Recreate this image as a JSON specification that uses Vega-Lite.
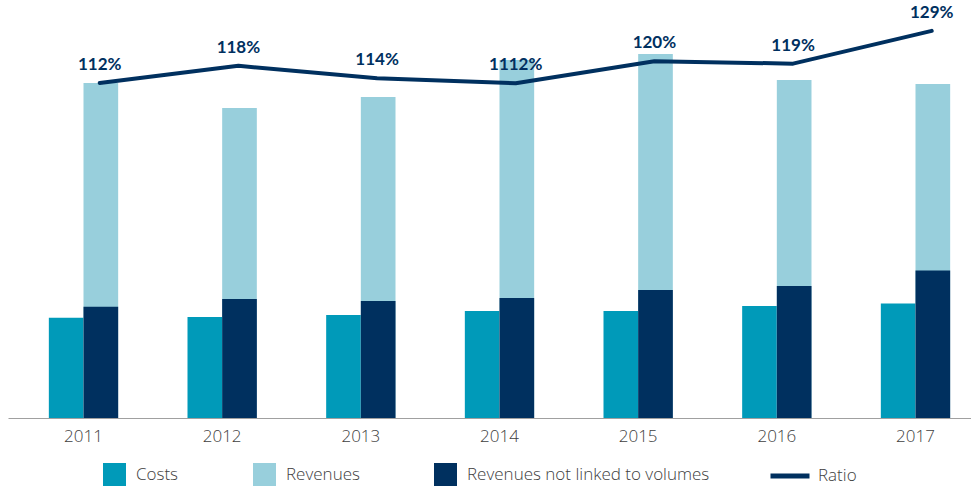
{
  "$schema": "https://vega.github.io/schema/vega-lite/v6.json",
  "width": 963,
  "height": 418,
  "autosize": {"type": "none"},
  "padding": {"left": 8, "top": 0, "right": 0, "bottom": 73},
  "config": {
    "view": {"stroke": null},
    "font": "Open Sans",
    "axis": {"grid": false}
  },
  "datasets": {
    "bars": [
      {"year": "2011", "series": "Costs", "grp": "Costs", "value": 100.3},
      {"year": "2012", "series": "Costs", "grp": "Costs", "value": 101},
      {"year": "2013", "series": "Costs", "grp": "Costs", "value": 103},
      {"year": "2014", "series": "Costs", "grp": "Costs", "value": 107},
      {"year": "2015", "series": "Costs", "grp": "Costs", "value": 107},
      {"year": "2016", "series": "Costs", "grp": "Costs", "value": 112},
      {"year": "2017", "series": "Costs", "grp": "Costs", "value": 114.6},
      {"year": "2011", "series": "Revenues", "grp": "Rev", "value": 335},
      {"year": "2012", "series": "Revenues", "grp": "Rev", "value": 310},
      {"year": "2013", "series": "Revenues", "grp": "Rev", "value": 321},
      {"year": "2014", "series": "Revenues", "grp": "Rev", "value": 358},
      {"year": "2015", "series": "Revenues", "grp": "Rev", "value": 364},
      {"year": "2016", "series": "Revenues", "grp": "Rev", "value": 338},
      {"year": "2017", "series": "Revenues", "grp": "Rev", "value": 334},
      {"year": "2011", "series": "Revenues not linked to volumes", "grp": "Rev", "value": 111.3},
      {"year": "2012", "series": "Revenues not linked to volumes", "grp": "Rev", "value": 119},
      {"year": "2013", "series": "Revenues not linked to volumes", "grp": "Rev", "value": 117},
      {"year": "2014", "series": "Revenues not linked to volumes", "grp": "Rev", "value": 120},
      {"year": "2015", "series": "Revenues not linked to volumes", "grp": "Rev", "value": 128},
      {"year": "2016", "series": "Revenues not linked to volumes", "grp": "Rev", "value": 132},
      {"year": "2017", "series": "Revenues not linked to volumes", "grp": "Rev", "value": 147.6}
    ],
    "ratio": [
      {"year": "2011", "series": "Ratio", "ratio": 112.0, "label": "112%"},
      {"year": "2012", "series": "Ratio", "ratio": 117.6, "label": "118%"},
      {"year": "2013", "series": "Ratio", "ratio": 113.5, "label": "114%"},
      {"year": "2014", "series": "Ratio", "ratio": 111.9, "label": "1112%"},
      {"year": "2015", "series": "Ratio", "ratio": 119.1, "label": "120%"},
      {"year": "2016", "series": "Ratio", "ratio": 118.3, "label": "119%"},
      {"year": "2017", "series": "Ratio", "ratio": 129.0, "label": "129%"}
    ]
  },
  "layer": [
    {
      "data": {"name": "bars"},
      "mark": {"type": "bar"},
      "encoding": {
        "x": {
          "field": "year", "type": "nominal",
          "scale": {"range": [0, 983], "paddingInner": 0, "paddingOuter": 0.0445},
          "axis": {"title": null, "labelAngle": 0, "ticks": false, "domainColor": "#a0a0a0", "domainWidth": 1.2, "labelFontSize": 17, "labelFontWeight": 300, "labelColor": "#404040", "labelPadding": 10}
        },
        "xOffset": {"field": "grp", "type": "nominal", "scale": {"domain": ["Costs", "Rev"], "paddingInner": 0, "paddingOuter": 1.2}},
        "y": {"field": "value", "type": "quantitative", "stack": null, "scale": {"domain": [0, 418], "nice": false}, "axis": null},
        "color": {
          "field": "series", "type": "nominal",
          "scale": {"domain": ["Costs", "Revenues", "Revenues not linked to volumes"], "range": ["#009ab9", "#98cfdc", "#00305f"]},
          "legend": {
            "title": null, "orient": "none", "legendX": 95, "legendY": 463, "direction": "horizontal",
            "symbolType": "square", "symbolSize": 529, "symbolStrokeWidth": 0, "symbolOpacity": 1,
            "labelFontSize": 17, "labelFontWeight": 300, "labelColor": "#404040", "labelOffset": 10, "columnPadding": 74, "padding": 0, "labelLimit": 400
          }
        }
      }
    },
    {
      "data": {"name": "ratio"},
      "mark": {"type": "line", "strokeWidth": 4, "strokeCap": "round", "strokeJoin": "round"},
      "encoding": {
        "x": {"field": "year", "type": "nominal", "bandPosition": 0.617},
        "y": {"field": "ratio", "type": "quantitative", "scale": {"domain": [2.5, 139.1], "nice": false, "zero": false}, "axis": null},
        "stroke": {
          "field": "series", "type": "nominal",
          "scale": {"domain": ["Ratio"], "range": ["#00305f"]},
          "legend": {
            "title": null, "orient": "none", "legendX": 760, "legendY": 454,
            "symbolType": "stroke", "symbolSize": 1521, "symbolStrokeWidth": 5,
            "labelFontSize": 17, "labelFontWeight": 300, "labelColor": "#404040", "labelOffset": 6, "padding": 0
          }
        }
      }
    },
    {
      "data": {"name": "ratio"},
      "mark": {"type": "text", "dy": -18, "fontWeight": "bold", "fontSize": 17, "font": "Lato", "color": "#00305f", "baseline": "middle"},
      "encoding": {
        "x": {"field": "year", "type": "nominal", "bandPosition": 0.617},
        "y": {"field": "ratio", "type": "quantitative", "scale": {"domain": [2.5, 139.1], "nice": false, "zero": false}, "axis": null},
        "text": {"field": "label"}
      }
    }
  ],
  "resolve": {"scale": {"y": "independent"}}
}
